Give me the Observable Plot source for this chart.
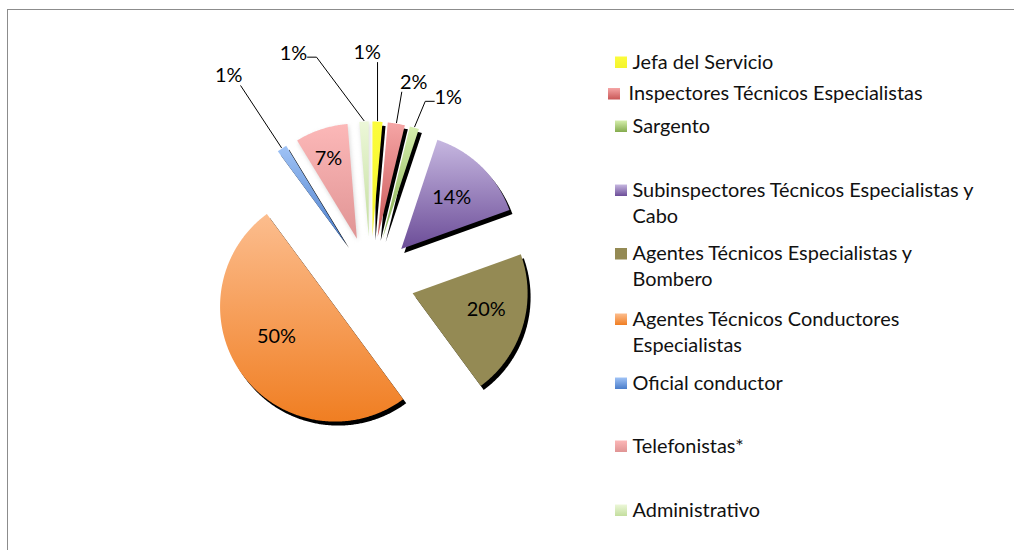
<!DOCTYPE html>
<html><head><meta charset="utf-8">
<script src="https://cdn.jsdelivr.net/npm/d3@7"></script>
<script src="https://cdn.jsdelivr.net/npm/@observablehq/plot@0.6"></script>
<style>
body{margin:0;background:#fff;}
#wrap{position:relative;width:1014px;height:550px;overflow:hidden;}
#frame{position:absolute;left:7px;top:9px;width:1100px;height:600px;border-top:1px solid #8c8c8c;border-left:1px solid #8c8c8c;}
#chart{position:absolute;left:0;top:0;}
</style></head><body>
<div id="wrap"><div id="frame"></div><div id="chart"></div></div>
<script>
// ---- data ----
const categories = ["Jefa del Servicio","Inspectores Técnicos Especialistas","Sargento","Subinspectores Técnicos Especialistas y Cabo","Agentes Técnicos Especialistas y Bombero","Agentes Técnicos Conductores Especialistas","Oficial conductor","Telefonistas*","Administrativo"];
const legendLines = [["Jefa del Servicio"],["Inspectores Técnicos Especialistas"],["Sargento"],["Subinspectores Técnicos Especialistas y","Cabo"],["Agentes Técnicos Especialistas y","Bombero"],["Agentes Técnicos Conductores","Especialistas"],["Oficial conductor"],["Telefonistas*"],["Administrativo"]];
const shares = [1.4, 2.4, 1.3, 14.4, 20.4, 50, 1.4, 7.4, 1.3];
const colorTop    = ["#fcfc3c","#f5a5a5","#d6efad","#c6b7e0","#948a54","#fcbd8e","#a0c3f6","#fcb8b8","#ecf7d8"];
const colorBottom = ["#f4f42c","#c95757","#84ab4d","#6c4d98","#948a54","#f07e22","#4a7dca","#e09494","#c3de9e"];

// ---- layout ----
const W = 1014, H = 550;
const cx = 370, cy = 280, R = 115, explode = 44;
const blackShadow = [0,1,2,3,4,5,6];
const insideLabel = {3:{f:0.63,da:0}, 4:{f:0.657,da:-4.1}, 5:{f:0.574,da:8.9}, 7:{f:0.736,da:-1.6}};
const outsideLabel = {0:{a:-0.8,d:228,attach:"bottom"}, 1:{a:12.3,d:203,attach:"bottom"}, 2:{a:23,d:199,attach:"side"}, 6:{a:325.3,d:249,attach:"bottom"}, 8:{a:341.3,d:240,attach:"side"}};
const legendRowY = [62, 93.5, 126, 190, 253.5, 319, 383, 446, 510];
const legendShift = [0,-7,0,0,0,0,0,0,0];
const lineGap = 26;

// font size fitted to the reference text width
const ctx = document.createElement("canvas").getContext("2d");
ctx.font = "100px Lato";
const fs = Math.round(100 * 295 / ctx.measureText("Inspectores Técnicos Especialistas").width * 10) / 10;

const total = d3.sum(shares);
const pie = d3.pie().sort(null).value(d => d)(shares);
const dir = a => [Math.sin(a), -Math.cos(a)];
const rad = d => d * Math.PI / 180;

const slices = pie.map((p, i) => {
  const mid = (p.startAngle + p.endAngle) / 2;
  const [ux, uy] = dir(mid);
  const ax = cx + explode * ux, ay = cy + explode * uy;
  const pts = [{x: ax, y: ay}];
  const n = Math.max(2, Math.ceil((p.endAngle - p.startAngle) / (Math.PI / 360)));
  for (let k = 0; k <= n; k++) {
    const a = p.startAngle + (p.endAngle - p.startAngle) * k / n;
    const [vx, vy] = dir(a);
    pts.push({x: ax + R * vx, y: ay + R * vy});
  }
  return {i, mid, ax, ay, pts, pct: Math.round(shares[i] / total * 100) + "%"};
});

const marks = [];
// shadows
slices.forEach(s => {
  if (blackShadow.includes(s.i))
    marks.push(Plot.line(s.pts, {x: "x", y: "y", curve: "linear-closed", fill: "black", stroke: "none", dx: 3, dy: 4}));
  else
    marks.push(Plot.line(s.pts, {x: "x", y: "y", curve: "linear-closed", fill: "#b8b8b8", fillOpacity: 0.55, stroke: "none", dx: 1, dy: 2, imageFilter: "blur(2px)"}));
});
// slices
slices.forEach(s => marks.push(Plot.line(s.pts, {x: "x", y: "y", curve: "linear-closed", fill: `url(#grad${s.i})`, stroke: "none"})));

// inside labels
const inside = slices.filter(s => insideLabel[s.i]).map(s => {
  const L = insideLabel[s.i];
  const [ux, uy] = dir(s.mid + rad(L.da));
  return {x: s.ax + L.f * R * ux, y: s.ay + L.f * R * uy, t: s.pct};
});
marks.push(Plot.text(inside, {x: "x", y: "y", text: "t", fontSize: fs, fill: "#000"}));

// outside labels + leaders
const outside = [], leaders = [];
slices.filter(s => outsideLabel[s.i]).forEach(s => {
  const L = outsideLabel[s.i];
  const [lx0, ly0] = dir(rad(L.a));
  const lx = cx + L.d * lx0, ly = cy + L.d * ly0;
  outside.push({x: lx, y: ly, t: s.pct});
  const [ux, uy] = dir(s.mid);
  const ex = s.ax + (R + 1) * ux, ey = s.ay + (R + 1) * uy;
  let pts;
  if (L.attach === "bottom") {
    pts = [{x: Math.max(lx - 12, Math.min(lx + 12, ex)), y: ly + 10}, {x: ex, y: ey}];
  } else {
    const side = ex > lx ? 1 : -1;
    const sx = lx + side * 14;
    pts = [{x: sx, y: ly + 4}, {x: sx + side * 9, y: ly + 4}, {x: ex, y: ey}];
  }
  pts.forEach(p => p.k = s.i);
  leaders.push(...pts);
});
marks.push(Plot.line(leaders, {x: "x", y: "y", z: "k", stroke: "#000", strokeWidth: 1}));
marks.push(Plot.text(outside, {x: "x", y: "y", text: "t", fontSize: fs, fill: "#000"}));

// legend
const legendText = [];
categories.forEach((c, i) => {
  const x0 = 615 + legendShift[i];
  const y0 = legendRowY[i];
  marks.push(Plot.rect([{x1: x0, x2: x0 + 12, y1: y0 - 5.5, y2: y0 + 6}], {x1: "x1", x2: "x2", y1: "y1", y2: "y2", fill: `url(#grad${i})`}));
  legendLines[i].forEach((line, j) => legendText.push({x: x0 + 17 + (i === 1 ? 3 : 0), y: y0 + j * lineGap, t: line}));
});
marks.push(Plot.text(legendText, {x: "x", y: "y", text: "t", textAnchor: "start", fontSize: fs, fill: "#111"}));

const svg = Plot.plot({
  width: W, height: H, margin: 0,
  x: {type: "linear", domain: [0, W], range: [0, W], axis: null},
  y: {type: "linear", domain: [0, H], range: [0, H], axis: null},
  style: {fontFamily: "Lato, 'Open Sans', sans-serif", background: "transparent", overflow: "visible"},
  marks
});

const ns = "http://www.w3.org/2000/svg";
const defs = document.createElementNS(ns, "defs");
categories.forEach((c, i) => {
  const g = document.createElementNS(ns, "linearGradient");
  g.setAttribute("id", "grad" + i);
  g.setAttribute("x1", "0"); g.setAttribute("y1", "0"); g.setAttribute("x2", "0"); g.setAttribute("y2", "1");
  [[0, colorTop[i]], [1, colorBottom[i]]].forEach(([o, col]) => {
    const st = document.createElementNS(ns, "stop");
    st.setAttribute("offset", o); st.setAttribute("stop-color", col);
    g.appendChild(st);
  });
  defs.appendChild(g);
});
svg.insertBefore(defs, svg.firstChild);
document.getElementById("chart").appendChild(svg);
</script>
</body></html>
